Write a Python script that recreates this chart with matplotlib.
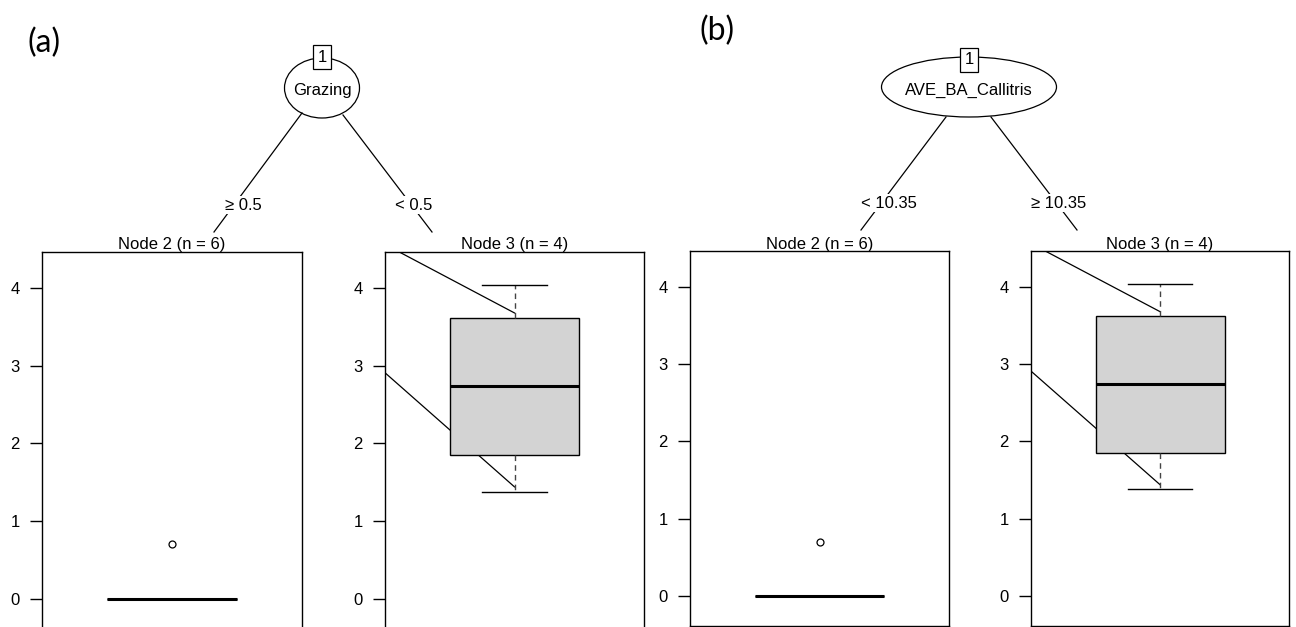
import matplotlib
matplotlib.use("Agg")
import matplotlib.pyplot as plt
from matplotlib.patches import Ellipse

# -------------------------------
# Data
# -------------------------------
panel_tags = ["(a)", "(b)"]
split_vars = ["Grazing", "AVE_BA_Callitris"]
left_splits = ["\u2265 0.5", "< 10.35"]
right_splits = ["< 0.5", "\u2265 10.35"]
node_titles = ["Node 2 (n = 6)", "Node 3 (n = 4)"]

# node 2: all zeros plus one outlier
node2_stats = dict(med=0.0, q1=0.0, q3=0.0, whislo=0.0, whishi=0.0, fliers=[0.70])
# node 3: four values
node3_stats = dict(med=2.74, q1=1.85, q3=3.62, whislo=1.38, whishi=4.04, fliers=[])

y_ticks = [0, 1, 2, 3, 4]
y_limits = (-0.39, 4.465)

# stray connector lines seen over node 3 (x in panel fraction, y in data units)
stray_lines = [((0.058, 4.46), (0.5, 3.68)), ((0.0, 2.91), (0.5, 1.44))]

W, H = 1296, 627
FS = 12
plt.rcParams["font.family"] = ["Liberation Sans", "DejaVu Sans"]
fig = plt.figure(figsize=(W / 100, H / 100), dpi=100)


def px_axes(left, top, right, bottom):
    return fig.add_axes([left / W, 1 - bottom / H, (right - left) / W, (bottom - top) / H])


def box_panel(ax, stats, strays):
    ax.bxp([stats], positions=[0.5], widths=0.5, capwidths=0.25, patch_artist=True,
           boxprops=dict(facecolor="#d3d3d3", edgecolor="black", linewidth=1.0, zorder=2),
           medianprops=dict(color="black", linewidth=2.2, zorder=3),
           whiskerprops=dict(color="#444444", linewidth=1.0, linestyle=(0, (4, 3))),
           capprops=dict(color="black", linewidth=1.0),
           flierprops=dict(marker="o", markersize=5, markerfacecolor="white",
                           markeredgecolor="black", markeredgewidth=0.9))
    if strays:
        for (x0, y0), (x1, y1) in stray_lines:
            ax.plot([x0, x1], [y0, y1], color="black", linewidth=0.9, zorder=1)
    ax.set_xlim(0, 1)
    ax.set_ylim(*y_limits)
    ax.set_xticks([])
    ax.set_yticks(y_ticks)
    ax.tick_params(axis="y", length=9, width=1, pad=7, labelsize=FS, colors="black")
    for s in ax.spines.values():
        s.set_linewidth(1.0)
        s.set_color("black")


# panel (a)
ax_a2 = px_axes(42, 252, 302, 629)
ax_a3 = px_axes(385, 252, 644, 629)
box_panel(ax_a2, node2_stats, False)
box_panel(ax_a3, node3_stats, True)

# panel (b)
ax_b2 = px_axes(690, 251, 949, 626)
ax_b3 = px_axes(1031, 251, 1289, 626)
box_panel(ax_b2, node2_stats, False)
box_panel(ax_b3, node3_stats, True)

# -------------------------------
# Tree part drawn on an overlay in pixel units
# -------------------------------
ov = fig.add_axes([0, 0, 1, 1], zorder=5)
ov.set_xlim(0, W)
ov.set_ylim(H, 0)
ov.axis("off")
ov.patch.set_alpha(0)

trees = [
    dict(cx=322, cy=88, ew=75, eh=60, lab_y=57,
         left=((302, 113), (214, 232)), right=((343, 115), (432, 232)),
         llab=(243, 205), rlab=(414, 205), t2=(172, 245), t3=(515, 245), tag=(44, 43)),
    dict(cx=969, cy=87, ew=175, eh=60, lab_y=60,
         left=((946, 117), (861, 230)), right=((991, 117), (1077, 230)),
         llab=(889, 203), rlab=(1059, 203), t2=(820, 244), t3=(1160, 244), tag=(717, 31)),
]

for i, t in enumerate(trees):
    ov.add_patch(Ellipse((t["cx"], t["cy"]), t["ew"], t["eh"], facecolor="white",
                         edgecolor="black", linewidth=0.9))
    ov.text(t["cx"], t["cy"] + 3, split_vars[i], ha="center", va="center", fontsize=FS)
    ov.text(t["cx"], t["lab_y"], "1", ha="center", va="center", fontsize=FS,
            bbox=dict(boxstyle="square,pad=0.25", facecolor="white", edgecolor="black",
                      linewidth=0.9))
    for seg in (t["left"], t["right"]):
        (x0, y0), (x1, y1) = seg
        ov.plot([x0, x1], [y0, y1], color="black", linewidth=0.9)
    ov.text(*t["llab"], left_splits[i], ha="center", va="center", fontsize=FS,
            bbox=dict(boxstyle="square,pad=0.1", facecolor="white", edgecolor="none"))
    ov.text(*t["rlab"], right_splits[i], ha="center", va="center", fontsize=FS,
            bbox=dict(boxstyle="square,pad=0.1", facecolor="white", edgecolor="none"))
    ov.text(*t["t2"], node_titles[0], ha="center", va="center", fontsize=FS)
    ov.text(*t["t3"], node_titles[1], ha="center", va="center", fontsize=FS)
    ov.text(*t["tag"], panel_tags[i], ha="center", va="center", fontsize=23,
            family=["Lato", "DejaVu Sans"])

fig.savefig("out.png", dpi=100, facecolor="white")
